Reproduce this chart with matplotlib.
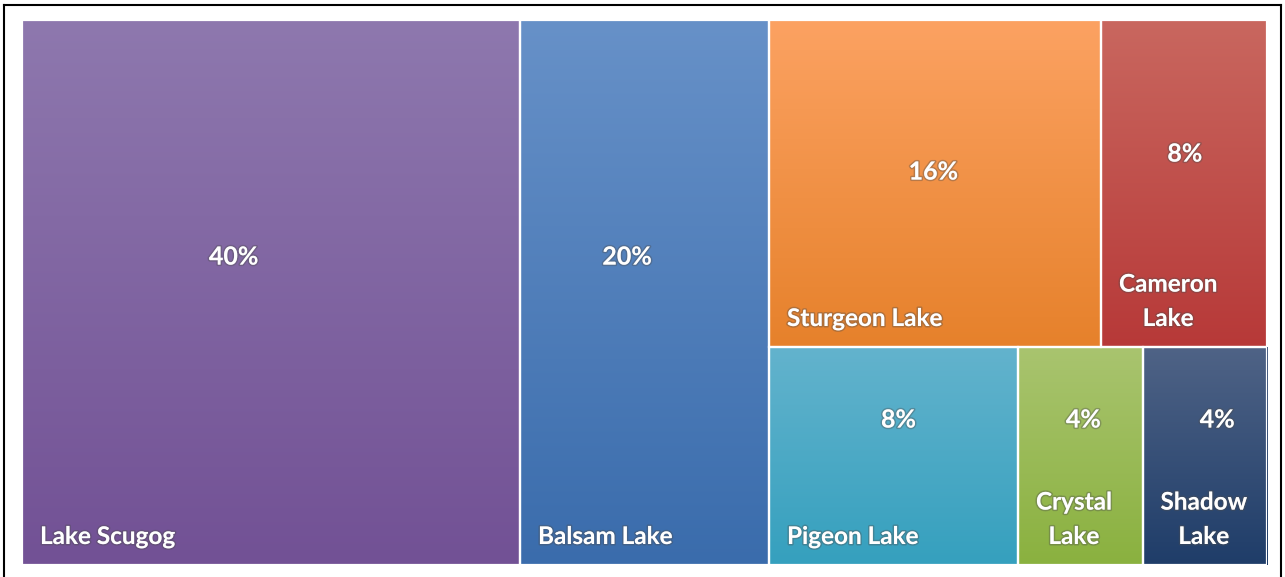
import numpy as np
import matplotlib.pyplot as plt
import matplotlib.patheffects as pe
from matplotlib.colors import to_rgb
from matplotlib.lines import Line2D

lakes = ["Lake Scugog", "Balsam Lake", "Sturgeon Lake", "Cameron\nLake",
         "Pigeon Lake", "Crystal\nLake", "Shadow\nLake"]
shares = [40, 20, 16, 8, 8, 4, 4]

# treemap grouping: two full-height columns, then a column of two rows
columns = [[[0]], [[1]], [[2, 3], [4, 5, 6]]]

top_colors = ["#8e78ae", "#6791c8", "#fca262", "#c9675f", "#63b3cd", "#a9c46f", "#4f6386"]
bottom_colors = ["#725195", "#3a6cac", "#e6812b", "#b73938", "#35a0be", "#8ab13f", "#1f3d69"]
# where the percent label sits, as fraction of tile height from the top
pct_y = [0.435, 0.435, 0.465, 0.41, 0.335, 0.335, 0.335]
pct_dx = [-0.075, -0.07, -0.005, 0.005, 0.02, 0.025, 0.1]

W, H = 1285, 577
fig = plt.figure(figsize=(W / 100, H / 100), dpi=100)
ax = fig.add_axes([22 / W, (H - 565) / H, 1245 / W, 545 / H])
ax.set_xlim(0, 1)
ax.set_ylim(1, 0)
ax.axis("off")

total = sum(shares)
tiles = {}
x = 0
for col in columns:
    col_total = sum(shares[i] for row in col for i in row)
    cw = col_total / total
    y = 0
    for row in col:
        row_total = sum(shares[i] for i in row)
        rh = row_total / col_total
        xx = x
        for i in row:
            tw = cw * shares[i] / row_total
            tiles[i] = (xx, y, tw, rh)
            xx += tw
        y += rh
    x += cw

grad = np.linspace(0, 1, 256)[:, None]
glow = [pe.withStroke(linewidth=2.2, foreground=(0.3, 0.3, 0.3, 0.35))]
for i, (tx, ty, tw, th) in tiles.items():
    c0 = np.array(to_rgb(top_colors[i]))
    c1 = np.array(to_rgb(bottom_colors[i]))
    img = c0[None, None, :] * (1 - grad[:, :, None]) + c1[None, None, :] * grad[:, :, None]
    ax.imshow(img, extent=(tx, tx + tw, ty + th, ty), aspect="auto", zorder=1)
    ax.add_patch(plt.Rectangle((tx, ty), tw, th, fill=False, edgecolor="white",
                               linewidth=1.6, zorder=2))
    ax.text(tx + tw / 2 + pct_dx[i] * tw, ty + pct_y[i] * th, f"{shares[i]}%",
            ha="center", va="center", color="white", fontsize=18,
            fontweight="bold", family="Lato", path_effects=glow, zorder=3)
    ax.text(tx + 18 / 1245, ty + th - 17 / 545, lakes[i], ha="left", va="bottom",
            multialignment="center", color="white", fontsize=17.5, fontweight="bold",
            family="Lato", linespacing=1.6, path_effects=glow, zorder=3)

ax.set_xlim(0, 1)
ax.set_ylim(1, 0)

# outer frame of the chart area
fx0, fx1, fy0 = 4 / W, 1281 / W, 1 - 5 / H
for xs, ys in [([fx0, fx1], [fy0, fy0]), ([fx0, fx0], [fy0, -0.1]), ([fx1, fx1], [fy0, -0.1])]:
    fig.add_artist(Line2D(xs, ys, color="black", linewidth=1.5, transform=fig.transFigure))

fig.savefig("out.png", dpi=100, facecolor="white")
